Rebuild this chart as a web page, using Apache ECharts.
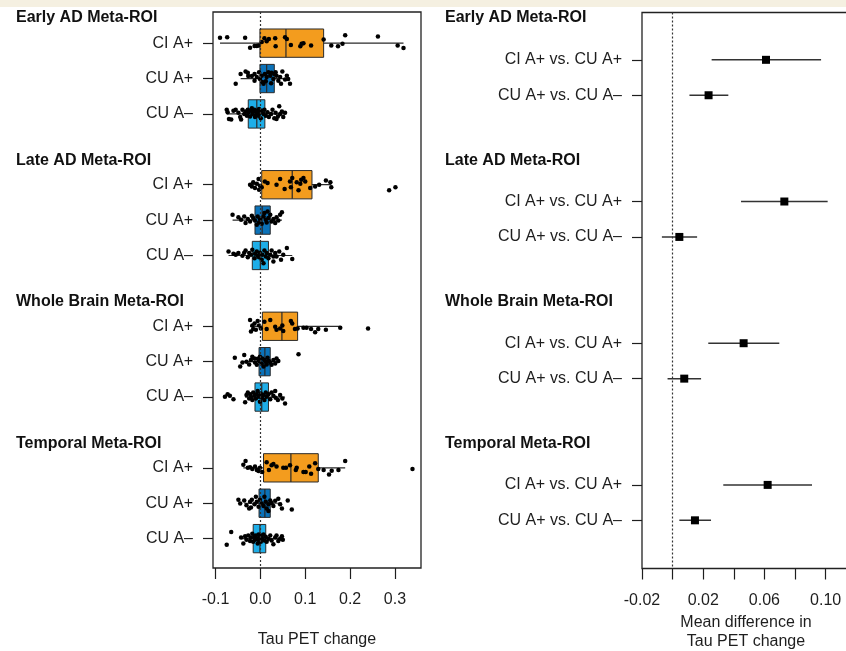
<!DOCTYPE html>
<html>
<head>
<meta charset="utf-8">
<script src="https://cdn.jsdelivr.net/npm/echarts@6.0.0/dist/echarts.min.js"></script>
<style>
  html, body { margin: 0; padding: 0; background: #fff; }
  #chart { width: 846px; height: 651px; }
</style>
</head>
<body>
<div id="chart"></div>
<script>
const regions = ['Early AD Meta-ROI', 'Late AD Meta-ROI', 'Whole Brain Meta-ROI', 'Temporal Meta-ROI']
const groups = ['CI A+', 'CU A+', 'CU A\u2013']
const contrasts = ['CI A+ vs. CU A+', 'CU A+ vs. CU A\u2013']
const leftTicks = [-0.1, 0, 0.1, 0.2, 0.3]
const rightTicks = [-0.02, 0, 0.02, 0.04, 0.06, 0.08, 0.10]
const rightTickLabels = [-0.02, 0.02, 0.06, 0.10]

// box stats per region: [whisker low, Q1, median, Q3, whisker high] for CI A+, CU A+, CU A-
const earlyBox = [[-0.090, -0.001, 0.057, 0.141, 0.319], [-0.044, -0.001, 0.014, 0.031, 0.066], [-0.075, -0.027, -0.008, 0.010, 0.055]]
const lateBox = [[-0.023, 0.003, 0.071, 0.115, 0.158], [-0.062, -0.012, 0.004, 0.022, 0.048], [-0.071, -0.018, 0.000, 0.018, 0.071]]
const wholeBox = [[-0.023, 0.0045, 0.048, 0.083, 0.178], [-0.040, -0.003, 0.010, 0.022, 0.040], [-0.034, -0.012, 0.003, 0.018, 0.055]]
const temporalBox = [[-0.038, 0.007, 0.068, 0.129, 0.189], [-0.036, -0.003, 0.010, 0.022, 0.048], [-0.043, -0.016, -0.001, 0.012, 0.050]]

// individual changes: [value, vertical jitter in row units]
const earlyCI = [[-0.090, -0.15], [-0.074, -0.17], [-0.034, -0.15], [-0.023, 0.13], [-0.013, 0.08], [-0.008, 0.08], [-0.004, 0.07], [0.003, -0.03], [0.009, -0.14], [0.014, -0.05], [0.019, -0.12], [0.033, -0.14], [0.034, 0.09], [0.055, -0.17], [0.059, -0.12], [0.068, 0.05], [0.089, 0.09], [0.092, 0.02], [0.096, 0.0], [0.113, 0.07], [0.141, -0.10], [0.158, 0.07], [0.173, 0.09], [0.183, 0.02], [0.189, -0.22], [0.262, -0.19], [0.306, 0.07], [0.319, 0.14]]
const earlyCUp = [[-0.055, 0.15], [-0.044, -0.13], [-0.033, -0.20], [-0.028, -0.16], [-0.027, -0.07], [-0.019, -0.07], [-0.013, -0.13], [-0.008, -0.04], [-0.003, -0.18], [-0.001, 0.01], [0.003, -0.08], [0.004, 0.10], [0.007, 0.15], [0.010, -0.13], [0.014, -0.04], [0.018, -0.18], [0.022, -0.08], [0.025, -0.16], [0.029, 0.01], [0.031, -0.13], [0.034, -0.18], [0.036, -0.08], [0.040, 0.06], [0.044, -0.04], [0.046, 0.15], [0.049, -0.20], [0.055, 0.03], [0.059, -0.08], [0.062, 0.01], [0.066, 0.15], [-0.013, 0.06], [0.012, 0.08], [0.024, 0.13]]
const earlyCUn = [[-0.075, -0.12], [-0.073, -0.05], [-0.070, 0.14], [-0.065, 0.16], [-0.060, -0.09], [-0.055, -0.12], [-0.049, -0.03], [-0.045, 0.09], [-0.043, 0.16], [-0.040, -0.12], [-0.036, 0], [-0.033, -0.07], [-0.030, 0.05], [-0.028, -0.12], [-0.027, -0.03], [-0.023, 0.07], [-0.021, -0.09], [-0.019, -0.16], [-0.018, 0], [-0.016, -0.07], [-0.013, -0.12], [-0.012, 0.09], [-0.010, 0.03], [-0.008, -0.05], [-0.006, -0.09], [-0.004, 0.05], [-0.003, -0.14], [-0.001, -0.03], [0.001, 0.12], [0.003, -0.09], [0.007, 0], [0.009, -0.12], [0.012, 0.05], [0.016, -0.05], [0.019, 0.09], [0.024, 0], [0.027, -0.12], [0.031, 0.12], [0.034, -0.03], [0.036, 0.14], [0.039, 0.07], [0.042, -0.22], [0.044, 0], [0.048, -0.07], [0.051, 0.09], [0.055, -0.03]]
const lateCI = [[-0.023, 0], [-0.019, 0.05], [-0.016, -0.07], [-0.012, 0.09], [-0.008, -0.03], [-0.004, -0.16], [-0.003, 0.14], [-0.001, 0.03], [0.003, 0.07], [0.010, -0.09], [0.016, -0.05], [0.036, 0], [0.044, -0.16], [0.054, 0.12], [0.066, -0.09], [0.068, 0.07], [0.071, -0.19], [0.081, -0.07], [0.085, 0.16], [0.089, -0.03], [0.091, -0.14], [0.096, -0.19], [0.100, -0.09], [0.111, 0.09], [0.122, 0.05], [0.131, 0], [0.146, -0.12], [0.156, -0.07], [0.158, 0.07], [0.287, 0.16], [0.301, 0.07]]
const lateCUp = [[-0.062, -0.15], [-0.049, -0.08], [-0.043, -0.01], [-0.036, -0.10], [-0.033, 0.08], [-0.028, -0.03], [-0.023, 0.04], [-0.019, -0.12], [-0.016, -0.06], [-0.012, 0.01], [-0.008, 0.13], [-0.006, -0.10], [-0.003, 0.07], [-0.001, -0.03], [0.003, 0.10], [0.007, -0.10], [0.009, -0.20], [0.012, -0.01], [0.014, 0.07], [0.016, -0.24], [0.018, -0.06], [0.022, -0.15], [0.025, 0.04], [0.029, -0.03], [0.033, 0.08], [0.036, -0.08], [0.040, 0.01], [0.044, -0.15], [0.048, -0.22]]
const lateCUn = [[-0.071, -0.11], [-0.060, -0.05], [-0.055, -0.02], [-0.049, -0.07], [-0.040, 0.01], [-0.036, -0.08], [-0.033, -0.14], [-0.028, 0.05], [-0.025, -0.07], [-0.021, -0.02], [-0.018, -0.16], [-0.013, 0.08], [-0.012, -0.05], [-0.008, -0.11], [-0.006, 0.01], [-0.003, 0.05], [-0.001, -0.08], [0.003, 0.12], [0.004, -0.02], [0.007, 0.22], [0.009, -0.14], [0.012, 0.03], [0.014, -0.07], [0.018, 0.08], [0.022, -0.02], [0.025, -0.14], [0.029, 0.17], [0.029, 0.03], [0.033, -0.07], [0.036, 0.03], [0.042, -0.11], [0.046, 0.12], [0.051, -0.02], [0.059, -0.21], [0.071, 0.10]]
const wholeCI = [[-0.023, -0.18], [-0.021, 0.15], [-0.018, -0.02], [-0.016, 0.08], [-0.013, -0.08], [-0.010, 0.10], [-0.006, -0.15], [-0.003, -0.02], [0.001, 0.06], [0.009, -0.13], [0.014, 0.08], [0.022, -0.18], [0.033, 0.01], [0.036, 0.10], [0.044, 0.06], [0.049, -0.02], [0.051, 0.13], [0.068, -0.15], [0.071, -0.08], [0.077, 0.08], [0.083, 0.06], [0.096, 0.04], [0.103, 0.04], [0.113, 0.08], [0.122, 0.17], [0.129, 0.08], [0.146, 0.10], [0.178, 0.04], [0.240, 0.06]]
const wholeCUp = [[-0.057, -0.11], [-0.045, 0.14], [-0.040, 0.02], [-0.036, -0.19], [-0.031, 0], [-0.025, 0.08], [-0.021, -0.05], [-0.018, -0.14], [-0.013, -0.09], [-0.012, 0.02], [-0.008, 0.09], [-0.006, -0.08], [-0.003, -0.02], [-0.001, -0.14], [0.003, 0.05], [0.004, -0.09], [0.007, 0.14], [0.009, -0.05], [0.012, 0], [0.014, 0.08], [0.016, -0.11], [0.019, -0.02], [0.022, 0.02], [0.025, 0.09], [0.029, -0.05], [0.033, 0.05], [0.036, -0.09], [0.040, -0.02], [0.085, -0.21]]
const wholeCUn = [[-0.079, -0.01], [-0.073, -0.08], [-0.068, -0.04], [-0.060, 0.06], [-0.034, 0.15], [-0.031, -0.06], [-0.028, -0.13], [-0.025, 0.04], [-0.023, -0.08], [-0.021, -0.01], [-0.018, 0.08], [-0.016, -0.13], [-0.013, -0.04], [-0.010, 0.04], [-0.008, -0.08], [-0.006, -0.17], [-0.003, -0.01], [-0.001, 0.13], [0.001, -0.10], [0.004, 0.02], [0.007, -0.06], [0.009, 0.08], [0.012, -0.13], [0.014, -0.01], [0.018, -0.08], [0.022, 0.06], [0.025, -0.13], [0.029, -0.04], [0.033, -0.17], [0.034, 0.02], [0.039, 0.08], [0.044, -0.06], [0.049, 0.04], [0.055, 0.18]]
const temporalCI = [[-0.038, -0.09], [-0.033, -0.19], [-0.028, 0], [-0.023, -0.02], [-0.018, 0.03], [-0.012, -0.04], [-0.008, 0.06], [-0.004, 0.09], [-0.001, 0], [0.004, 0.12], [0.014, -0.16], [0.019, 0.06], [0.025, -0.07], [0.029, -0.11], [0.036, -0.04], [0.051, 0], [0.057, 0], [0.066, -0.07], [0.079, 0.06], [0.081, 0], [0.096, 0.12], [0.101, 0.12], [0.109, -0.04], [0.113, 0.17], [0.122, -0.13], [0.129, 0.03], [0.141, 0.06], [0.153, 0.19], [0.159, 0.08], [0.174, 0.06], [0.189, -0.19], [0.339, 0.03]]
const temporalCUp = [[-0.049, -0.10], [-0.045, 0.01], [-0.036, -0.08], [-0.031, 0.06], [-0.025, 0.15], [-0.023, -0.04], [-0.021, 0.12], [-0.019, -0.10], [-0.013, 0.03], [-0.010, -0.18], [-0.008, -0.04], [-0.004, 0.10], [-0.001, -0.10], [0.003, 0.01], [0.007, 0.08], [0.009, -0.18], [0.012, -0.04], [0.014, 0.15], [0.018, 0.03], [0.018, 0.22], [0.022, -0.08], [0.025, -0.01], [0.029, 0.08], [0.033, -0.07], [0.040, -0.13], [0.044, 0.03], [0.048, 0.15], [0.061, -0.08], [0.070, 0.18]]
const temporalCUn = [[-0.075, 0.17], [-0.065, -0.19], [-0.043, -0.03], [-0.038, 0.14], [-0.034, -0.07], [-0.031, 0.03], [-0.027, -0.09], [-0.023, 0.07], [-0.021, -0.03], [-0.018, -0.14], [-0.016, 0.09], [-0.013, -0.05], [-0.012, 0.03], [-0.010, -0.09], [-0.008, 0], [-0.006, 0.14], [-0.004, -0.12], [-0.003, 0.05], [-0.001, -0.05], [0.001, 0.09], [0.003, -0.09], [0.004, 0], [0.007, -0.12], [0.009, 0.05], [0.012, -0.05], [0.014, 0.09], [0.018, 0], [0.022, -0.09], [0.025, 0.05], [0.029, 0.16], [0.033, -0.03], [0.036, -0.09], [0.040, 0.07], [0.044, 0], [0.048, -0.07], [0.050, 0.03]]

// mean differences: [lower CI, estimate, upper CI]
const earlyDiff = [[0.0255, 0.061, 0.097], [0.011, 0.0235, 0.0364]]
const lateDiff = [[0.0447, 0.073, 0.1013], [-0.007, 0.0044, 0.016]]
const wholeDiff = [[0.0233, 0.0464, 0.0697], [-0.0033, 0.0076, 0.0186]]
const temporalDiff = [[0.0331, 0.0621, 0.0911], [0.0044, 0.0146, 0.0251]]

const boxStats = [earlyBox, lateBox, wholeBox, temporalBox]
const points = [[earlyCI, earlyCUp, earlyCUn], [lateCI, lateCUp, lateCUn], [wholeCI, wholeCUp, wholeCUn], [temporalCI, temporalCUp, temporalCUn]]
const diffs = [earlyDiff, lateDiff, wholeDiff, temporalDiff]

const groupColors = ['#f39c1e', '#0b72b9', '#1eaee8']
const font = '"Liberation Sans", Arial, Helvetica, sans-serif'
const ink = '#1e1e1e'

// rows: each region takes 4 slots (header slot + entries)
const boxData = []
const pointData = []
const leftLabels = {}
boxStats.forEach((reg, r) => {
  reg.forEach((s, g) => {
    const row = 4 * r + g + 1
    leftLabels[row] = groups[g]
    boxData.push([row, s[0], s[1], s[2], s[3], s[4], g])
    points[r][g].forEach(p => pointData.push([p[0], row + p[1]]))
  })
})
const diffData = []
const rightLabels = {}
diffs.forEach((reg, r) => {
  reg.forEach((d, c) => {
    const row = 4 * r + c + 1
    rightLabels[row] = contrasts[c]
    diffData.push([row, d[0], d[1], d[2]])
  })
})

function renderBox (params, api) {
  const row = api.value(0)
  const y = api.coord([0, row])[1]
  const h = api.size([0, 0.8])[1]
  const x = i => api.coord([api.value(i), row])[0]
  const lo = x(1); const q1 = x(2); const md = x(3); const q3 = x(4); const hi = x(5)
  const stroke = '#2a2a2a'
  return {
    type: 'group',
    children: [
      { type: 'line', shape: { x1: lo, y1: y, x2: hi, y2: y }, style: { stroke, lineWidth: 1.2 } },
      { type: 'rect', shape: { x: q1, y: y - h / 2, width: q3 - q1, height: h }, style: { fill: groupColors[api.value(6)], stroke, lineWidth: 1 } },
      { type: 'line', shape: { x1: md, y1: y - h / 2, x2: md, y2: y + h / 2 }, style: { stroke, lineWidth: 1.2 } }
    ]
  }
}

function renderDiff (params, api) {
  const row = api.value(0)
  const y = api.coord([0, row])[1]
  const lo = api.coord([api.value(1), row])[0]
  const est = api.coord([api.value(2), row])[0]
  const hi = api.coord([api.value(3), row])[0]
  return {
    type: 'group',
    children: [
      { type: 'line', shape: { x1: lo, y1: y, x2: hi, y2: y }, style: { stroke: '#333', lineWidth: 1.5 } },
      { type: 'rect', shape: { x: est - 4, y: y - 4, width: 8, height: 8 }, style: { fill: '#000' } }
    ]
  }
}

const zeroLine = {
  silent: true,
  symbol: ['none', 'none'],
  label: { show: false },
  lineStyle: { type: [2, 2], color: '#333', width: 1.2 },
  data: [{ xAxis: 0 }]
}

function xAxisOf (gridIndex, min, max, ticks, labels, digits, name, nameGap) {
  return {
    gridIndex,
    type: 'value',
    min,
    max,
    splitLine: { show: false },
    axisLine: { show: false, onZero: false },
    axisTick: { show: true, customValues: ticks, length: 11, lineStyle: { color: ink, width: 1.2 } },
    axisLabel: { customValues: labels, margin: 24, color: ink, fontSize: 16, fontFamily: font, formatter: v => v.toFixed(digits) },
    name,
    nameLocation: 'middle',
    nameGap,
    nameTextStyle: { color: ink, fontSize: 16, fontFamily: font, lineHeight: 19 }
  }
}

function yAxisOf (gridIndex, min, max, labelMap) {
  const rows = Object.keys(labelMap).map(Number)
  return {
    gridIndex,
    type: 'value',
    inverse: true,
    min,
    max,
    splitLine: { show: false },
    axisLine: { show: false, onZero: false },
    axisTick: { show: true, customValues: rows, length: 10, lineStyle: { color: ink, width: 1.2 } },
    axisLabel: { customValues: rows, margin: 20, color: ink, fontSize: 16, fontFamily: font, formatter: v => labelMap[Math.round(v)] || '' }
  }
}

const headerY = [18, 161, 302, 444]
const headers = []
regions.forEach((name, r) => {
  [16, 445].forEach(x => {
    headers.push({
      type: 'text',
      x,
      y: headerY[r],
      style: { text: name, fill: '#111', font: 'bold 16px ' + font, verticalAlign: 'middle' }
    })
  })
})

const chart = echarts.init(document.getElementById('chart'), null, { renderer: 'canvas' })
chart.setOption({
  animation: false,
  backgroundColor: '#fff',
  textStyle: { fontFamily: font },
  graphic: [
    { type: 'rect', shape: { x: 0, y: 0, width: 846, height: 7 }, style: { fill: '#f5f0e1' }, z: -1 }
  ].concat(headers),
  grid: [
    { left: 213, top: 12, width: 208, height: 556, show: true, borderColor: '#222', borderWidth: 1.3, backgroundColor: 'transparent', containLabel: false, outerBoundsMode: 'none' },
    { left: 642, top: 12.5, width: 208, height: 556, show: true, borderColor: '#222', borderWidth: 1.3, backgroundColor: 'transparent', containLabel: false, outerBoundsMode: 'none' }
  ],
  xAxis: [
    xAxisOf(0, -0.1056, 0.358, leftTicks, leftTicks, 1, 'Tau PET change', 62),
    xAxisOf(1, -0.02, 0.1159, rightTicks, rightTickLabels, 2, 'Mean difference in\nTau PET change', 42)
  ],
  yAxis: [
    yAxisOf(0, 0.12, 15.83, leftLabels),
    yAxisOf(1, -0.336, 15.36, rightLabels)
  ],
  series: [
    {
      type: 'custom',
      xAxisIndex: 0,
      yAxisIndex: 0,
      renderItem: renderBox,
      encode: { x: [1, 2, 3, 4, 5], y: 0 },
      data: boxData,
      z: 2,
      markLine: zeroLine
    },
    {
      type: 'scatter',
      xAxisIndex: 0,
      yAxisIndex: 0,
      symbolSize: 4.5,
      itemStyle: { color: '#000', opacity: 1 },
      data: pointData,
      z: 4
    },
    {
      type: 'custom',
      xAxisIndex: 1,
      yAxisIndex: 1,
      renderItem: renderDiff,
      encode: { x: [1, 2, 3], y: 0 },
      data: diffData,
      z: 3,
      markLine: zeroLine
    }
  ]
})
</script>
</body>
</html>
